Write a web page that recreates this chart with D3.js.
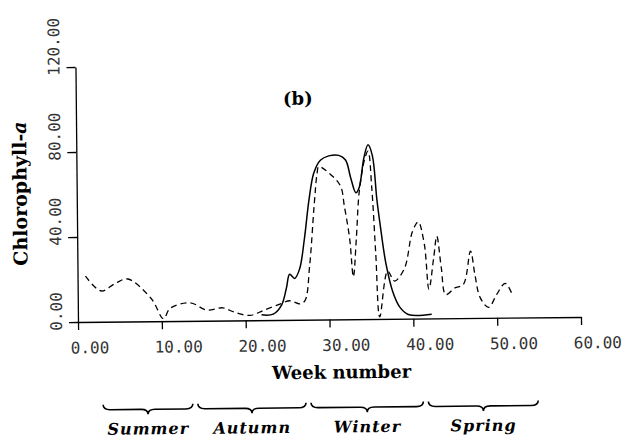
<!DOCTYPE html>
<html>
<head>
<meta charset="utf-8">
<script src="https://cdn.jsdelivr.net/npm/d3@7"></script>
<style>
  body { margin: 0; background: #fff; }
</style>
</head>
<body>
<svg id="chart" width="627" height="439"></svg>
<script>
// Chlorophyll-a, panel (b): observed (dashed) and model (solid)

let obsWeek = [0.95, 2.8, 4.5, 6.0, 8.8, 10.2, 11.0, 13.4, 15.4, 17.3, 18.6, 20.5, 22.1, 24.1, 25.3, 26.5, 27.1,
  27.7, 28.3, 28.7, 28.9, 30.5, 31.5, 31.9, 32.5, 32.9, 33.3, 33.7, 34.4, 34.8, 35.2, 35.6, 36.0,
  37.0, 37.8, 39.0, 40.0, 40.7, 41.4, 41.9, 42.5, 42.9, 43.4, 43.9, 45.0, 46.0, 46.9, 47.4, 48.0, 49.0, 50.0, 51.0, 51.8];
let obsChl = [21.5, 14.5, 18.0, 20.0, 10.5, 1.2, 6.0, 8.5, 5.0, 6.0, 4.0, 2.3, 4.5, 7.5, 9.0, 7.5, 9.0,
  25.5, 53.5, 69.0, 72.0, 67.5, 62.5, 53.5, 38.0, 20.0, 38.0, 60.0, 75.5, 79.0, 61.5, 30.5, 1.0,
  22.5, 17.8, 23.7, 41.0, 45.5, 35.0, 13.8, 28.5, 38.7, 23.7, 11.2, 14.3, 15.8, 31.5, 20.4, 9.6, 5.0, 11.2, 16.2, 11.2];

let modelWeek = [21.9, 23.3, 24.3, 24.9, 25.3, 25.9, 26.5, 27.1, 27.7, 28.3, 29.1, 30.1, 31.3, 32.1, 32.7, 33.3,
  33.7, 34.3, 34.8, 35.3, 35.8, 36.2, 36.8, 37.6, 38.4, 39.4, 42.2];
let modelChl = [2.5, 2.8, 7.0, 15.0, 21.5, 19.5, 24.0, 38.0, 56.5, 69.0, 75.0, 77.0, 77.2, 75.0, 66.5, 59.5,
  62.0, 76.0, 82.0, 77.0, 56.0, 43.0, 26.0, 12.5, 5.5, 2.0, 2.0];

let xTicks = [0, 10, 20, 30, 40, 50, 60];
let yTicks = [0, 40, 80, 120];

let seasons = ["Summer", "Autumn", "Winter", "Spring"];
let seasonFrom = [2.9, 14.2, 27.7, 41.7];
let seasonTo = [13.6, 27.1, 41.1, 54.8];

let monoFont = "'DejaVu Sans Mono', monospace";
let serifFont = "'DejaVu Serif', serif";

let svg = d3.select("#chart");
// the scanned figure is tilted a little
let g = svg.append("g").attr("transform", "rotate(-0.57,78,322)");

let x = d3.scaleLinear().domain([0, 60]).range([78, 581]);
let y = d3.scaleLinear().domain([0, 120]).range([322, 67]);

// x axis
let xAxis = g.append("g")
  .attr("transform", "translate(0," + y(0) + ")")
  .call(d3.axisBottom(x).tickValues(xTicks).tickSize(8).tickSizeOuter(0).tickFormat(d3.format(".2f")));
xAxis.selectAll("text")
  .attr("font-family", monoFont)
  .attr("font-size", 16)
  .attr("fill", "#333")
  .attr("text-anchor", "start")
  .attr("x", -8)
  .attr("y", 20);

// y axis, labels turned on their side
let yAxis = g.append("g")
  .attr("transform", "translate(" + x(0) + ",0)")
  .call(d3.axisLeft(y).tickValues(yTicks).tickSize(9).tickSizeOuter(0).tickFormat(d3.format(".2f")));
yAxis.selectAll("text")
  .attr("font-family", monoFont)
  .attr("font-size", 16)
  .attr("fill", "#333")
  .attr("text-anchor", "start")
  .attr("transform", "rotate(-90)")
  .attr("x", -8)
  .attr("y", -16)
  .attr("dy", 0);

g.selectAll(".domain, .tick line").attr("stroke", "#000").attr("stroke-width", 1.3);

// lines
let obs = obsWeek.map((w, i) => [w, obsChl[i]]);
let model = modelWeek.map((w, i) => [w, modelChl[i]]);

let line = d3.line()
  .x(d => x(d[0]))
  .y(d => y(d[1]))
  .curve(d3.curveCatmullRom.alpha(0.5));

g.append("path")
  .datum(obs)
  .attr("d", line)
  .attr("fill", "none")
  .attr("stroke", "#000")
  .attr("stroke-width", 1.3)
  .attr("stroke-dasharray", "6,4");

g.append("path")
  .datum(model)
  .attr("d", line)
  .attr("fill", "none")
  .attr("stroke", "#000")
  .attr("stroke-width", 1.5);

// titles
g.append("text")
  .attr("x", 300).attr("y", 107)
  .attr("text-anchor", "middle")
  .attr("font-family", serifFont).attr("font-weight", "bold").attr("font-size", 18)
  .text("(b)");

g.append("text")
  .attr("x", 341).attr("y", 381)
  .attr("text-anchor", "middle")
  .attr("font-family", serifFont).attr("font-weight", "bold").attr("font-size", 18)
  .text("Week number");

let yTitle = g.append("text")
  .attr("transform", "translate(28,193) rotate(-90)")
  .attr("text-anchor", "middle")
  .attr("font-family", serifFont).attr("font-weight", "bold").attr("font-size", 19);
yTitle.append("tspan").text("Chlorophyll-");
yTitle.append("tspan").attr("font-style", "italic").text("a");

// season braces
function bracePath(x1, x2, y0) {
  let m = (x1 + x2) / 2, h = 5, q = 7;
  return "M" + x1 + "," + y0 +
    " Q" + x1 + "," + (y0 + h) + " " + (x1 + q) + "," + (y0 + h) +
    " L" + (m - q) + "," + (y0 + h) +
    " Q" + m + "," + (y0 + h) + " " + m + "," + (y0 + 2 * h) +
    " Q" + m + "," + (y0 + h) + " " + (m + q) + "," + (y0 + h) +
    " L" + (x2 - q) + "," + (y0 + h) +
    " Q" + x2 + "," + (y0 + h) + " " + x2 + "," + y0;
}

g.selectAll(".brace")
  .data(seasons)
  .join("path")
    .classed("brace", true)
    .attr("d", (d, i) => bracePath(x(seasonFrom[i]), x(seasonTo[i]), 405))
    .attr("fill", "none")
    .attr("stroke", "#000")
    .attr("stroke-width", 1.6);

g.selectAll(".season")
  .data(seasons)
  .join("text")
    .classed("season", true)
    .attr("x", (d, i) => x((seasonFrom[i] + seasonTo[i]) / 2))
    .attr("y", 435)
    .attr("text-anchor", "middle")
    .attr("font-family", serifFont)
    .attr("font-weight", "bold")
    .attr("font-style", "italic")
    .attr("font-size", 16)
    .attr("letter-spacing", 1)
    .text(d => d);
</script>
</body>
</html>
